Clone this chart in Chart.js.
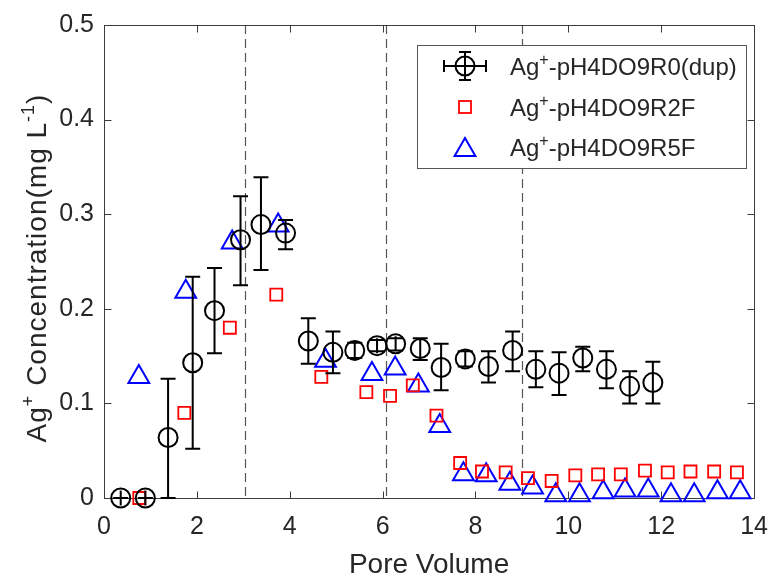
<!DOCTYPE html>
<html>
<head>
<meta charset="utf-8">
<script src="https://cdn.jsdelivr.net/npm/chart.js@4.4.1/dist/chart.umd.min.js"></script>
<style>
  html, body { margin: 0; padding: 0; background: #fff; }
  canvas { display: block; }
</style>
</head>
<body>
<canvas id="chart" width="782" height="577"></canvas>
<script>
// Ag+ breakthrough data versus pore volume
const r0PoreVolume = [0.36, 0.89, 1.38, 1.91, 2.38, 2.94, 3.38, 3.91, 4.40, 4.93, 5.40, 5.88, 6.28, 6.81, 7.26, 7.78, 8.28, 8.80, 9.30, 9.80, 10.31, 10.82, 11.32, 11.82];
const r0Conc       = [0, 0, 0.064, 0.143, 0.198, 0.273, 0.289, 0.280, 0.166, 0.154, 0.156, 0.161, 0.163, 0.158, 0.138, 0.147, 0.139, 0.156, 0.136, 0.132, 0.148, 0.136, 0.118, 0.122];
const r0Lower      = [0, 0, 0, 0.052, 0.153, 0.225, 0.241, 0.263, 0.142, 0.132, 0.148, 0.155, 0.156, 0.146, 0.114, 0.139, 0.122, 0.134, 0.117, 0.109, 0.134, 0.116, 0.100, 0.100];
const r0Upper      = [0, 0, 0.126, 0.234, 0.243, 0.319, 0.339, 0.294, 0.190, 0.176, 0.164, 0.167, 0.169, 0.169, 0.163, 0.155, 0.155, 0.176, 0.155, 0.154, 0.160, 0.155, 0.134, 0.144];

const r2PoreVolume = [0.76, 1.73, 2.71, 3.71, 4.68, 5.65, 6.16, 6.65, 7.16, 7.67, 8.14, 8.65, 9.13, 9.64, 10.15, 10.64, 11.13, 11.65, 12.14, 12.63, 13.14, 13.63];
const r2Conc       = [0, 0.090, 0.180, 0.215, 0.128, 0.112, 0.108, 0.119, 0.087, 0.037, 0.028, 0.027, 0.021, 0.018, 0.024, 0.025, 0.025, 0.029, 0.027, 0.028, 0.028, 0.027];

const r5PoreVolume = [0.75, 1.76, 2.76, 3.75, 4.77, 5.77, 6.27, 6.77, 7.23, 7.74, 8.23, 8.74, 9.23, 9.73, 10.24, 10.75, 11.22, 11.72, 12.21, 12.71, 13.21, 13.70];
const r5Conc       = [0.128, 0.218, 0.270, 0.288, 0.145, 0.131, 0.137, 0.119, 0.076, 0.025, 0.024, 0.015, 0.011, 0.003, 0.003, 0.006, 0.008, 0.008, 0.003, 0.003, 0.006, 0.006];

const seriesNames = ['-pH4DO9R0(dup)', '-pH4DO9R2F', '-pH4DO9R5F'];
const phaseBreaks = [3.03, 6.08, 9.0];
const xTicks = [0, 2, 4, 6, 8, 10, 12, 14];
const yTicks = [0, 0.1, 0.2, 0.3, 0.4, 0.5];

const FONT = '"Liberation Sans", Arial, Helvetica, sans-serif';
const TEXT_COLOR = '#262626';
const AXIS_COLOR = '#3c3c3c';
const TICK_FONT = 25;
const LABEL_FONT = 28;
const LEGEND_FONT = 24;
const TICK_LEN = 7;
const CAP = 7.5;

function toPoints(xs, ys) { return xs.map((x, i) => ({ x: x, y: ys[i] })); }

// text made of normal and superscript runs, drawn from x on baseline y
function richWidth(ctx, parts, size) {
  let w = 0;
  parts.forEach(p => {
    ctx.font = (p.sup ? Math.round(size * 0.65) : size) + 'px ' + FONT;
    w += ctx.measureText(p.t).width;
  });
  return w;
}
function drawRich(ctx, parts, x, y, size) {
  let cx = x;
  parts.forEach(p => {
    const s = p.sup ? Math.round(size * 0.65) : size;
    ctx.font = s + 'px ' + FONT;
    ctx.fillText(p.t, cx, p.sup ? y - size * 0.42 : y);
    cx += ctx.measureText(p.t).width;
  });
}

function drawTriangle(ctx, x, y, r) {
  const a = Math.PI * 2 / 3;
  ctx.beginPath();
  ctx.moveTo(x, y - r);
  ctx.lineTo(x + Math.sin(a) * r, y - Math.cos(a) * r);
  ctx.lineTo(x - Math.sin(a) * r, y - Math.cos(a) * r);
  ctx.closePath();
  ctx.stroke();
}

const frameAndGuides = {
  id: 'frameAndGuides',
  beforeDatasetsDraw(chart) {
    const { ctx, chartArea: a, scales } = chart;
    ctx.save();
    // dashed phase boundaries
    ctx.strokeStyle = '#555';
    ctx.lineWidth = 1.2;
    ctx.setLineDash([9, 5]);
    phaseBreaks.forEach(v => {
      const px = Math.round(scales.x.getPixelForValue(v)) + 0.5;
      ctx.beginPath();
      ctx.moveTo(px, a.top);
      ctx.lineTo(px, a.bottom);
      ctx.stroke();
    });
    ctx.setLineDash([]);
    // axes box
    ctx.strokeStyle = AXIS_COLOR;
    ctx.lineWidth = 1;
    const L = Math.round(a.left) + 0.5, R = Math.round(a.right) + 0.5;
    const T = Math.round(a.top) + 0.5, B = Math.round(a.bottom) + 0.5;
    ctx.strokeRect(L, T, R - L, B - T);
    // inward ticks on all four sides
    ctx.beginPath();
    xTicks.forEach(v => {
      const px = Math.round(scales.x.getPixelForValue(v)) + 0.5;
      ctx.moveTo(px, B); ctx.lineTo(px, B - TICK_LEN);
      ctx.moveTo(px, T); ctx.lineTo(px, T + TICK_LEN);
    });
    yTicks.forEach(v => {
      const py = Math.round(scales.y.getPixelForValue(v)) + 0.5;
      ctx.moveTo(L, py); ctx.lineTo(L + TICK_LEN, py);
      ctx.moveTo(R, py); ctx.lineTo(R - TICK_LEN, py);
    });
    ctx.stroke();
    ctx.restore();
  }
};

const errorBars = {
  id: 'errorBars',
  afterDatasetsDraw(chart) {
    const { ctx, scales } = chart;
    const meta = chart.getDatasetMeta(0);
    ctx.save();
    ctx.strokeStyle = '#000';
    ctx.lineWidth = 2;
    meta.data.forEach((pt, i) => {
      const px = pt.x;
      const top = scales.y.getPixelForValue(r0Upper[i]);
      const bot = scales.y.getPixelForValue(r0Lower[i]);
      ctx.beginPath();
      ctx.moveTo(px, top); ctx.lineTo(px, bot);
      ctx.moveTo(px - CAP, top); ctx.lineTo(px + CAP, top);
      ctx.moveTo(px - CAP, bot); ctx.lineTo(px + CAP, bot);
      // zero-width horizontal error bar caps
      ctx.moveTo(px, pt.y - CAP); ctx.lineTo(px, pt.y + CAP);
      ctx.stroke();
    });
    ctx.restore();
  }
};

const labelsAndLegend = {
  id: 'labelsAndLegend',
  afterDraw(chart) {
    const { ctx, chartArea: a } = chart;
    ctx.save();
    ctx.fillStyle = TEXT_COLOR;
    ctx.textBaseline = 'alphabetic';
    ctx.textAlign = 'left';

    // x axis title
    ctx.font = LABEL_FONT + 'px ' + FONT;
    const xt = 'Pore Volume';
    const xw = ctx.measureText(xt).width;
    ctx.fillText(xt, (a.left + a.right) / 2 - xw / 2, 573);

    // y axis title, rotated, slightly tracked out
    const yParts = [{ t: 'Ag' }, { t: '+', sup: true }, { t: ' Concentration(mg L' }, { t: '-1', sup: true }, { t: ')' }];
    ctx.save();
    ctx.letterSpacing = '1px';
    const yw = richWidth(ctx, yParts, LABEL_FONT);
    ctx.translate(46, 268);
    ctx.rotate(-Math.PI / 2);
    drawRich(ctx, yParts, -yw / 2, 0, LABEL_FONT);
    ctx.restore();

    // legend box
    const bx = 417.5, by = 45.5, bw = 329, bh = 123;
    ctx.fillStyle = '#fff';
    ctx.fillRect(bx, by, bw, bh);
    ctx.strokeStyle = '#555';
    ctx.lineWidth = 1;
    ctx.strokeRect(bx, by, bw, bh);

    const mx = 465, rows = [66, 107, 147];
    // row 1: circle with both error bars
    ctx.strokeStyle = '#000';
    ctx.lineWidth = 2;
    ctx.beginPath();
    ctx.arc(mx, rows[0], 9.5, 0, Math.PI * 2);
    ctx.moveTo(mx, rows[0] - 14); ctx.lineTo(mx, rows[0] + 14);
    ctx.moveTo(mx - 6, rows[0] - 14); ctx.lineTo(mx + 6, rows[0] - 14);
    ctx.moveTo(mx - 6, rows[0] + 14); ctx.lineTo(mx + 6, rows[0] + 14);
    ctx.moveTo(mx - 21, rows[0]); ctx.lineTo(mx + 21, rows[0]);
    ctx.moveTo(mx - 21, rows[0] - 6); ctx.lineTo(mx - 21, rows[0] + 6);
    ctx.moveTo(mx + 21, rows[0] - 6); ctx.lineTo(mx + 21, rows[0] + 6);
    ctx.stroke();
    // row 2: red square
    ctx.strokeStyle = '#ff0000';
    ctx.lineWidth = 1.8;
    ctx.strokeRect(mx - 6, rows[1] - 6, 12, 12);
    // row 3: blue triangle
    ctx.strokeStyle = '#0000ff';
    ctx.lineWidth = 2;
    drawTriangle(ctx, mx, rows[2] + 3, 12);

    ctx.fillStyle = TEXT_COLOR;
    rows.forEach((ry, i) => {
      drawRich(ctx, [{ t: 'Ag' }, { t: '+', sup: true }, { t: seriesNames[i] }], 510, ry + 9, LEGEND_FONT);
    });
    ctx.restore();
  }
};

new Chart(document.getElementById('chart'), {
  type: 'scatter',
  data: {
    datasets: [
      {
        label: 'Ag+' + seriesNames[0],
        data: toPoints(r0PoreVolume, r0Conc),
        pointStyle: 'circle',
        pointRadius: 9.5,
        pointBorderWidth: 2,
        borderColor: '#000',
        backgroundColor: 'rgba(0,0,0,0)',
        clip: false
      },
      {
        label: 'Ag+' + seriesNames[1],
        data: toPoints(r2PoreVolume, r2Conc),
        pointStyle: 'rect',
        pointRadius: 8.5,
        pointBorderWidth: 1.8,
        borderColor: '#ff0000',
        backgroundColor: 'rgba(0,0,0,0)',
        clip: false
      },
      {
        label: 'Ag+' + seriesNames[2],
        data: toPoints(r5PoreVolume, r5Conc),
        pointStyle: 'triangle',
        pointRadius: 12,
        pointBorderWidth: 2,
        borderColor: '#0000ff',
        backgroundColor: 'rgba(0,0,0,0)',
        clip: false
      }
    ]
  },
  options: {
    responsive: false,
    animation: false,
    devicePixelRatio: 1,
    layout: { padding: { top: 23, right: 14, left: 0, bottom: 0 } },
    plugins: {
      legend: { display: false },
      tooltip: { enabled: false }
    },
    scales: {
      x: {
        type: 'linear',
        min: 0, max: 14,
        afterBuildTicks: s => { s.ticks = xTicks.map(v => ({ value: v })); },
        afterFit: s => { s.height = 79; },
        grid: { display: false, drawTicks: false },
        border: { display: false },
        ticks: {
          color: TEXT_COLOR,
          font: { family: FONT, size: TICK_FONT },
          padding: 14,
          maxRotation: 0,
          callback: v => String(v)
        }
      },
      y: {
        type: 'linear',
        min: 0, max: 0.5,
        afterBuildTicks: s => { s.ticks = yTicks.map(v => ({ value: v })); },
        afterFit: s => { s.width = 104; },
        grid: { display: false, drawTicks: false },
        border: { display: false },
        ticks: {
          color: TEXT_COLOR,
          font: { family: FONT, size: TICK_FONT },
          padding: 10,
          callback: v => (v === 0 ? '0' : v.toFixed(1))
        }
      }
    }
  },
  plugins: [frameAndGuides, errorBars, labelsAndLegend]
});
</script>
</body>
</html>
